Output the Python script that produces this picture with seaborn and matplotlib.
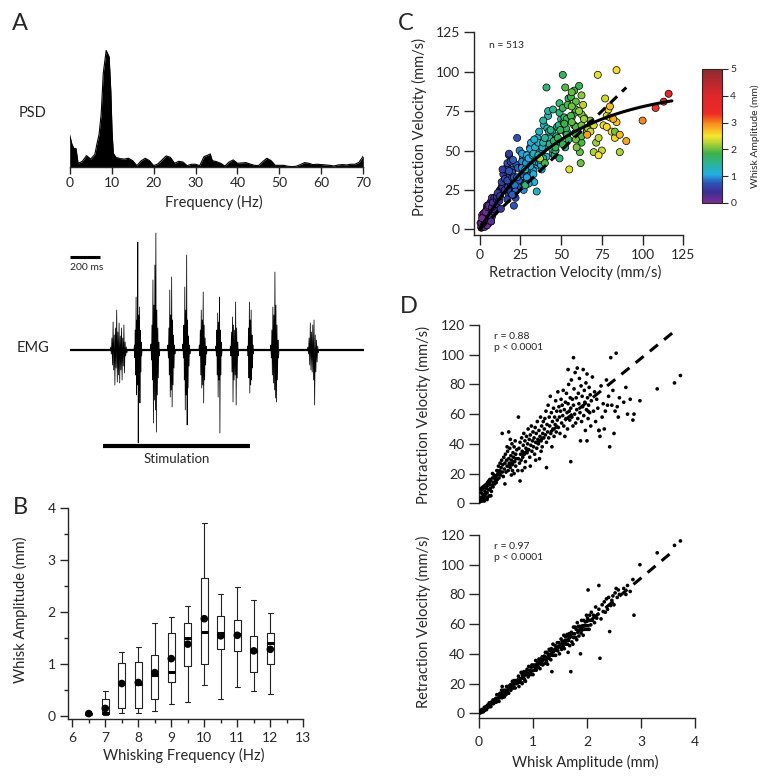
import numpy as np
import pandas as pd
import seaborn as sns
import matplotlib.pyplot as plt
from matplotlib.colors import LinearSegmentedColormap, Normalize
from matplotlib.cm import ScalarMappable

# ---------------- panel A : power spectrum of whisking
PSD_FREQ = [0, 0.5, 1, 1.5, 2, 3, 4, 5, 6, 6.5, 7, 7.5, 8, 8.7, 9.4, 9.8, 10.1, 10.4, 11,
            12, 13, 14, 15, 16, 17, 18, 19, 20, 21, 22, 23, 24, 25, 26, 27, 28, 29, 30,
            31, 32, 33, 33.5, 34, 35, 36, 37, 38, 39, 40, 41, 42, 43, 44, 45, 46, 47, 48,
            49, 50, 51, 52, 53, 54, 55, 56, 57, 58, 59, 60, 61, 62, 63, 64, 65, 66, 67,
            68, 69, 69.5, 70]
PSD_POWER = [27.5, 20, 16, 16, 3.4, 5, 10, 7, 11, 20, 28, 45, 80, 99.5, 94, 65, 30, 12, 8.5,
             7.4, 7, 7.7, 5.7, 1.4, 5.4, 7.7, 5.7, 1.4, 2.8, 6.3, 9.7, 8.5, 3.4, 5.1, 4.5, 1.4, 2.6, 2.6,
             1.4, 9, 10.5, 11.4, 5.7, 4.8, 3.4, 1.1, 4.5, 6.3, 3.4, 3.7, 4, 2.8, 1.7, 1.4, 4.8, 7.7, 5.7,
             1.7, 1.7, 1.7, 0.9, 0.6, 0.9, 2.3, 4, 3.4, 2.3, 2.6, 2.3, 2, 1.7, 1.1, 2, 2.3, 2, 2.6,
             2.6, 4.3, 7, 9.7]

# ---------------- panel A : EMG (time in ms, amplitude in arbitrary units)
EMG_DURATION = 1960
EMG_BURST_START = [269, 428, 538, 651, 751, 860, 971, 1067, 1182, 1336, 1582]
EMG_BURST_END = [385, 482, 600, 704, 804, 915, 1015, 1126, 1226, 1394, 1660]
EMG_BURST_PEAKS = [
    [3, -4, 12, -15, 28, -20, 15, -35, 22, -18, 40, -32, 18, -25, 27, -33, 14, -20, 22, -30, 12, -16, 25, -23, 8, -6, 3, -3],
    [5, -8, 20, -25, 53, -45, 30, -35, 108, -93, 35, -40, 43, -53, 20, -22, 8, -6],
    [6, -10, 25, -30, 70, -73, 45, -50, 85, -60, 117, -82, 40, -45, 22, -28, 8, -6],
    [5, -8, 22, -25, 60, -47, 35, -40, 73, -57, 30, -35, 15, -18, 5, -4],
    [6, -8, 25, -30, 63, -60, 40, -45, 95, -75, 30, -38, 14, -16, 5, -4],
    [5, -6, 20, -25, 40, -38, 30, -35, 58, -53, 25, -30, 12, -15, 4, -4],
    [4, -6, 20, -25, 37, -47, 28, -30, 53, -83, 20, -25, 8, -6],
    [4, -6, 18, -22, 33, -52, 25, -30, 20, -25, 48, -55, 22, -28, 8, -6],
    [4, -6, 22, -28, 48, -43, 30, -35, 40, -30, 15, -18, 5, -4],
    [5, -8, 20, -25, 43, -33, 35, -40, 78, -48, 45, -52, 25, -30, 10, -8],
    [3, -4, 12, -15, 27, -20, 18, -22, 25, -30, 30, -55, 15, -22, 10, -12, 4, -3],
]
SCALE_BAR_MS = 200
STIM_ON, STIM_OFF = 225, 1200

# ---------------- panel B : amplitude vs whisking frequency
BOX_FREQ = [6.5, 7, 7.5, 8, 8.5, 9, 9.5, 10, 10.5, 11, 11.5, 12]
BOX_WHISLO = [0.02, 0.01, 0.06, 0.05, 0.09, 0.22, 0.26, 0.60, 0.32, 0.55, 0.48, 0.42]
BOX_Q1 = [0.03, 0.03, 0.14, 0.15, 0.32, 0.65, 0.95, 1.00, 1.28, 1.25, 0.84, 1.00]
BOX_MED = [0.04, 0.05, 0.61, 0.61, 0.79, 0.85, 1.50, 1.62, 1.59, 1.58, 1.25, 1.41]
BOX_Q3 = [0.05, 0.32, 1.01, 1.04, 1.17, 1.59, 1.78, 2.65, 1.92, 1.84, 1.54, 1.59]
BOX_WHISHI = [0.06, 0.48, 1.23, 1.32, 1.78, 1.90, 2.12, 3.71, 2.35, 2.48, 2.23, 1.99]
BOX_MEAN = [0.04, 0.14, 0.62, 0.64, 0.83, 1.10, 1.38, 1.87, 1.54, 1.55, 1.25, 1.28]

# ---------------- panels C/D : per-whisk amplitude (mm), retraction / protraction velocity (mm/s)
AMP = [0.02, 0.03, 0.04, 0.05, 0.06, 0.07, 0.08, 0.09, 0.10, 0.11,
       0.12, 0.13, 0.14, 0.15, 0.16, 0.17, 0.18, 0.19, 0.20, 0.21,
       0.22, 0.23, 0.24, 0.25, 0.26, 0.27, 0.28, 0.29, 0.30, 0.05,
       0.08, 0.12, 0.16, 0.20, 0.25, 0.10, 0.15, 0.22, 0.04, 0.18,
       0.31, 0.32, 0.33, 0.34, 0.35, 0.36, 0.37, 0.38, 0.39, 0.40,
       0.41, 0.42, 0.43, 0.43, 0.44, 0.45, 0.46, 0.47, 0.48, 0.49,
       0.50, 0.51, 0.52, 0.53, 0.54, 0.55, 0.56, 0.57, 0.58, 0.59,
       0.60, 0.61, 0.62, 0.63, 0.64, 0.65, 0.66, 0.67, 0.68, 0.69,
       0.70, 0.55, 0.60, 0.65, 0.48, 0.58, 0.52, 0.62, 0.73, 0.68,
       0.72, 0.73, 0.74, 0.75, 0.76, 0.77, 0.78, 0.79, 0.80, 0.81,
       0.82, 0.83, 0.84, 0.85, 0.86, 0.87, 0.88, 0.89, 0.90, 0.91,
       0.92, 0.93, 0.94, 0.95, 0.96, 0.97, 0.98, 0.99, 1.00, 1.01,
       1.02, 1.03, 1.04, 1.05, 1.06, 1.07, 1.08, 1.09, 1.10, 1.11,
       1.12, 1.13, 1.14, 1.15, 1.16, 1.17, 1.18, 1.19, 1.20, 0.85,
       0.95, 1.05, 1.15, 0.80, 1.25, 0.76,
       1.21, 1.22, 1.23, 1.24, 1.25, 1.26, 1.27, 1.28, 1.29, 1.30,
       1.31, 1.32, 1.33, 1.34, 1.35, 1.36, 1.37, 1.38, 1.39, 1.40,
       1.41, 1.42, 1.43, 1.44, 1.45, 1.46, 1.47, 1.48, 1.49, 1.50,
       1.51, 1.52, 1.53, 1.54, 1.55, 1.56, 1.57, 1.58, 1.59, 1.60,
       1.61, 1.62, 1.63, 1.64, 1.65, 1.66, 1.67, 1.68, 1.69, 1.70,
       1.70, 1.65,
       1.71, 1.72, 1.73, 1.74, 1.75, 1.75, 1.76, 1.77, 1.78, 1.79,
       1.80, 1.81, 1.82, 1.83, 1.84, 1.85, 1.86, 1.87, 1.88, 1.89,
       1.90, 1.91, 1.92, 1.93, 1.94, 1.95, 1.96, 1.97, 1.98, 1.99,
       2.00, 2.01, 2.02, 2.03, 2.04, 2.05, 2.06, 2.07, 2.08, 2.10,
       2.12, 2.14, 2.16, 2.18, 2.20, 2.22, 2.24, 2.26, 2.28, 2.30,
       2.00,
       2.32, 2.34, 2.36, 2.38, 2.40, 2.42, 2.44, 2.46, 2.48, 2.50,
       2.52, 2.54, 2.56, 2.58, 2.60, 2.02, 2.22, 2.68, 2.72, 2.75,
       2.80, 2.85, 2.87, 2.98, 3.30, 3.62, 3.73]
RET = [1, 1.5, 0.5, 2.5, 1, 2.5, 1, 2.5, 4, 2,
       3, 4.5, 2.5, 4.5, 5.5, 4, 5, 7, 4.5, 6.5,
       4.5, 7.5, 7, 6.5, 9, 6.5, 8.5, 8.5, 7.5, 1.5,
       2.5, 3.5, 5, 6.5, 7.5, 3, 4.5, 7, 1.5, 5.5,
       10, 7.5, 12.5, 10, 9, 12.5, 8, 12, 13.5, 10.5,
       12, 15.5, 18, 10.5, 14, 12, 15.5, 11, 14, 15.5,
       12.5, 18, 15.5, 14.5, 18, 13.5, 17.5, 17, 19, 15.5,
       19, 17, 21.5, 18.5, 17, 20.5, 21.5, 17, 20, 21.5,
       20, 18, 17, 22, 13, 19, 14, 21, 23, 22,
       20.5, 25, 18, 23.5, 22.5, 21, 27.5, 20.5, 26, 24,
       23.5, 28, 23, 26.5, 21.5, 28, 26.5, 29.5, 26, 24.5,
       31.5, 26, 29, 28.5, 26, 31, 32.5, 28.5, 26, 31.5,
       32.5, 29, 31, 35.5, 29, 33, 31.5, 34.5, 31, 36.5,
       33.5, 30, 35.5, 36.5, 34, 38, 32.5, 36, 38, 22,
       27, 30, 33, 20, 35, 21,
       38.5, 33.5, 41, 36.5, 37.5, 41, 33, 39.5, 37, 43,
       38.5, 42, 36, 43.5, 28, 39, 46.5, 41.5, 39, 43,
       45.5, 39, 45, 42.5, 47.5, 42, 44.5, 47.5, 40, 46,
       44.5, 50, 43, 48.5, 47, 45, 52.5, 43.5, 49, 51.5,
       46.5, 49, 53, 46.5, 52, 49, 53.5, 45.5, 52, 28,
       53, 41,
       54.5, 48, 53.5, 46.5, 51, 58, 51, 53.5, 58, 51,
       56.5, 49.5, 61, 54.5, 58.5, 52, 56, 58.5, 40, 54,
       62.5, 56, 59, 52.5, 62.5, 59, 56.5, 61.5, 59, 66,
       56.5, 64, 59, 62.5, 56.5, 66, 62.5, 59.5, 68, 62.5,
       66, 61, 71.5, 64, 66.5, 70, 37, 63.5, 73, 68.5,
       62,
       75, 68, 77, 70, 78, 55, 72.5, 76, 79, 73,
       81, 84, 78, 83, 80, 83, 86, 84, 80, 86,
       82, 90, 66, 100, 108, 113, 116]
PRO = [1, 2, 4, 3, 1.5, 6, 4, 2.5, 5, 8,
       6, 3.5, 10, 7, 4, 12, 9, 5, 13, 10,
       15, 8, 12, 17, 11, 14, 19, 13, 16, 9,
       10, 11, 14, 16, 20, 1.5, 2.5, 5, 7, 15,
       18, 14, 22, 16, 20, 25, 17, 22, 27, 19,
       24, 29, 47, 21, 26, 18, 31, 23, 27, 33,
       21, 29, 25, 35, 22, 30, 27, 37, 24, 32,
       29, 40, 26, 34, 31, 38, 28, 42, 33, 30,
       36, 48, 19, 20, 13, 43, 38, 22, 58, 25,
       22, 30, 37, 27, 41, 33, 29, 44, 35, 31,
       39, 47, 33, 42, 28, 37, 45, 34, 40, 50,
       36, 43, 31, 46, 39, 52, 35, 42, 48, 38,
       44, 33, 51, 41, 47, 37, 55, 43, 40, 49,
       30, 45, 58, 42, 52, 38, 47, 55, 44, 24,
       25, 29, 35, 22, 24, 15,
       50, 57, 46, 62, 41, 53, 48, 66, 44, 58,
       52, 72, 47, 61, 38, 55, 50, 64, 45, 58,
       53, 69, 48, 62, 56, 75, 51, 65, 58, 47,
       62, 70, 54, 66, 59, 76, 52, 63, 45, 68,
       57, 74, 61, 50, 67, 80, 62, 56, 71, 28,
       64, 90,
       83, 58, 70, 52, 98, 66, 77, 60, 88, 54,
       71, 63, 91, 57, 74, 67, 84, 61, 42, 79,
       55, 72, 65, 90, 59, 76, 68, 49, 81, 63,
       87, 71, 57, 66, 78, 61, 73, 52, 69, 85,
       62, 75, 55, 70, 64, 49, 45, 79, 58, 67,
       42,
       50, 62, 83, 66, 72, 38, 98, 66, 76, 47,
       62, 101, 65, 58, 71, 62, 49, 68, 78, 60,
       70, 56, 60, 69, 77, 81, 86]
N_WHISKS = 513

# fits
C_FIT_MAX, C_FIT_TAU = 90, 50          # protraction = max * (1 - exp(-retraction / tau))
PRO_FIT = (29.5, 9.0)                  # slope, intercept
RET_FIT = (30.5, -0.5)
PRO_STATS = "r = 0.88\np < 0.0001"
RET_STATS = "r = 0.97\np < 0.0001"

assert len(PSD_FREQ) == len(PSD_POWER)
assert len(AMP) == len(RET) == len(PRO)

# colormap close to Igor "Rainbow" with a dark red top
CMAP = LinearSegmentedColormap.from_list("whisk", [
    (0.00, "#7b2b90"), (0.08, "#3d2f95"), (0.15, "#2d55b5"), (0.21, "#22aee3"),
    (0.29, "#2bb39a"), (0.37, "#3bb24a"), (0.44, "#a9cf38"), (0.50, "#f4e52b"),
    (0.58, "#f79a1e"), (0.67, "#ee2a24"), (0.80, "#e0262b"), (1.00, "#8d2b33")])
NORM = Normalize(0, 5)

sns.set_style("ticks")
plt.rcParams["font.family"] = ["Lato", "DejaVu Sans"]
plt.rcParams["axes.linewidth"] = 1.0

W, H = 768, 780
fig = plt.figure(figsize=(W / 100, H / 100), dpi=100)


def px_rect(x0, y0, x1, y1):
    return [x0 / W, 1 - y1 / H, (x1 - x0) / W, (y1 - y0) / H]


def letter(x, y, s):
    fig.text(x / W, 1 - y / H, s, fontsize=17, ha="center", va="center")


TICK_FS = 10
LABEL_FS = 10.5

# ---------- A: PSD
ax = fig.add_axes(px_rect(69.7, 44, 363.3, 167.3))
ax.fill_between(PSD_FREQ, 0, PSD_POWER, color="black", lw=0)
sns.lineplot(x=PSD_FREQ, y=PSD_POWER, color="black", lw=0.8, ax=ax)
ax.set_xlim(0, 70)
ax.set_ylim(0, 105)
sns.despine(ax=ax, left=True)
ax.set_yticks([])
ax.set_xticks(range(0, 71, 10))
ax.tick_params(axis="x", direction="out", length=5, width=1, labelsize=TICK_FS, pad=2)
ax.set_xlabel("Frequency (Hz)", fontsize=LABEL_FS)
ax.xaxis.set_label_coords(0.49, -0.225)
fig.text(33 / W, 1 - 113 / H, "PSD", fontsize=10.5, ha="center", va="center")
letter(20, 23, "A")

# ---------- A: EMG
ax = fig.add_axes(px_rect(69.7, 220, 364, 480))
t_pts, v_pts = [0], [0]
for start, end, peaks in zip(EMG_BURST_START, EMG_BURST_END, EMG_BURST_PEAKS):
    t_pts += [start] + list(np.linspace(start, end, len(peaks) + 2)[1:-1]) + [end]
    v_pts += [0] + peaks + [0]
t_pts.append(EMG_DURATION)
v_pts.append(0)
ax.plot([0, EMG_DURATION], [0, 0], color="black", lw=1.6)
ax.plot(t_pts, v_pts, color="black", lw=0.55)
ax.plot([0, SCALE_BAR_MS], [93, 93], color="black", lw=2.2, solid_capstyle="butt")
ax.text(0, 83, f"{SCALE_BAR_MS} ms", fontsize=7.5, ha="left", va="center")
ax.plot([STIM_ON, STIM_OFF], [-96, -96], color="black", lw=3, solid_capstyle="butt")
ax.text((STIM_ON + STIM_OFF) / 2, -109, "Stimulation", fontsize=9.5, ha="center", va="center")
ax.set_xlim(0, EMG_DURATION)
ax.set_ylim(-130, 130)
ax.axis("off")
fig.text(33 / W, 1 - 348 / H, "EMG", fontsize=10.5, ha="center", va="center")

# ---------- B: box plots
ax = fig.add_axes(px_rect(68.3, 508.3, 303.3, 719.3))
stats = [dict(med=m, q1=a, q3=b, whislo=lo, whishi=hi, label="")
         for lo, a, m, b, hi in zip(BOX_WHISLO, BOX_Q1, BOX_MED, BOX_Q3, BOX_WHISHI)]
ax.bxp(stats, positions=BOX_FREQ, widths=0.22, capwidths=0.15, showfliers=False,
       manage_ticks=False,
       boxprops=dict(color="#222222", lw=0.8), whiskerprops=dict(color="#222222", lw=0.8),
       capprops=dict(color="#222222", lw=0.8), medianprops=dict(color="black", lw=2.2))
sns.scatterplot(x=BOX_FREQ, y=BOX_MEAN, color="black", s=30, edgecolor="none", ax=ax, zorder=5)
ax.set_xlim(5.88, 13)
ax.set_ylim(-0.07, 4)
ax.set_xticks(range(6, 14))
ax.set_xticks(np.arange(6.5, 13, 1), minor=True)
ax.set_yticks(range(0, 5))
ax.set_yticks(np.arange(0.5, 4, 1), minor=True)
ax.tick_params(which="major", direction="out", length=6, width=1, labelsize=TICK_FS, pad=3)
ax.tick_params(which="minor", direction="out", length=3, width=1)
sns.despine(ax=ax)
ax.set_xlabel("Whisking Frequency (Hz)", fontsize=LABEL_FS)
ax.set_ylabel("Whisk Amplitude (mm)", fontsize=LABEL_FS)
ax.xaxis.set_label_coords(0.492, -0.136)
ax.yaxis.set_label_coords(-0.171, 0.52)
letter(20, 508, "B")

# ---------- C: protraction vs retraction, coloured by amplitude
df = pd.DataFrame({"amp": AMP, "ret": RET, "pro": PRO})
ax = fig.add_axes(px_rect(474, 32.3, 683.3, 235))
sns.scatterplot(data=df, x="ret", y="pro", hue="amp", palette=CMAP, hue_norm=NORM,
                s=26, edgecolor="black", linewidth=0.5, legend=False, ax=ax, zorder=3)
r_line = np.linspace(0, 118, 120)
ax.plot(r_line, C_FIT_MAX * (1 - np.exp(-r_line / C_FIT_TAU)), color="black", lw=2.2, zorder=4)
ax.plot([0, 90], [0, 90], color="black", lw=2.2, dashes=(3.2, 2.2), zorder=4)
ax.set_xlim(-3.5, 125)
ax.set_ylim(-3.6, 125)
ax.set_xticks(range(0, 126, 25))
ax.set_yticks(range(0, 126, 25))
ax.tick_params(direction="out", length=7, width=1, labelsize=TICK_FS, pad=3)
sns.despine(ax=ax)
ax.set_xlabel("Retraction Velocity (mm/s)", fontsize=LABEL_FS)
ax.set_ylabel("Protraction Velocity (mm/s)", fontsize=LABEL_FS)
ax.xaxis.set_label_coords(0.483, -0.148)
ax.yaxis.set_label_coords(-0.225, 0.534)
ax.text(0.074, 0.935, f"n = {N_WHISKS}", transform=ax.transAxes, fontsize=7.5, ha="left", va="center")
letter(406, 23, "C")

cax = fig.add_axes(px_rect(702, 69, 722, 203))
cb = fig.colorbar(ScalarMappable(norm=NORM, cmap=CMAP), cax=cax, ticks=range(6))
cb.outline.set_linewidth(0.8)
cax.tick_params(labelsize=7.5, length=4, width=0.8, pad=2)
cb.set_label("Whisk Amplitude (mm)", fontsize=7.5, labelpad=10)

# ---------- D: velocities vs amplitude
a_line = np.array([0, 3.62])
for top, (vals, fit, stats_txt, lab) in enumerate([
        (RET, RET_FIT, RET_STATS, "Retraction Velocity (mm/s)"),
        (PRO, PRO_FIT, PRO_STATS, "Protraction Velocity (mm/s)")]):
    if top:
        ax = fig.add_axes(px_rect(479, 325, 695, 508.3))
    else:
        ax = fig.add_axes(px_rect(479, 535, 695, 718.3))
    sns.scatterplot(x=AMP, y=vals, color="black", s=7, edgecolor="none", ax=ax, zorder=3)
    ax.plot(a_line, fit[0] * a_line + fit[1], color="black", lw=2.2, dashes=(3.4, 2.6), zorder=4)
    ax.set_xlim(0, 4)
    ax.set_ylim(-3.4, 120)
    ax.set_yticks(range(0, 121, 20))
    ax.tick_params(direction="out", length=7, width=1, labelsize=TICK_FS, pad=3)
    ax.set_ylabel(lab, fontsize=LABEL_FS)
    ax.yaxis.set_label_coords(-0.222, 0.51 if top else 0.525)
    ax.text(0.07, 0.905, stats_txt, transform=ax.transAxes, fontsize=7.5,
            ha="left", va="center", linespacing=1.3)
    if top:
        sns.despine(ax=ax, bottom=True)
        ax.spines["left"].set_bounds(0, 120)
        ax.set_xticks([])
    else:
        sns.despine(ax=ax)
        ax.set_xticks(range(0, 5))
        ax.tick_params(axis="x", pad=6)
        ax.set_xlabel("Whisk Amplitude (mm)", fontsize=LABEL_FS)
        ax.xaxis.set_label_coords(0.494, -0.2)
letter(409, 307, "D")

fig.savefig("out.png", dpi=100)
